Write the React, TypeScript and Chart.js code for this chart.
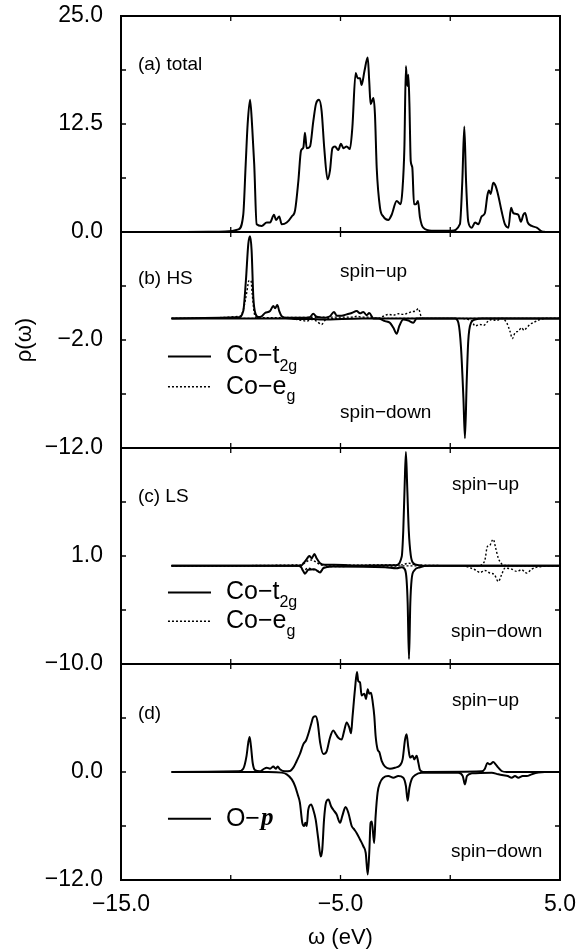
import React, { useEffect, useRef } from "react";
import { Chart, registerables } from "chart.js";

Chart.register(...registerables);

const M = "\u2212";

// x axis
const xTickLabels = [M + "15.0", "", M + "5.0", "", "5.0"];
// y tick labels per panel (index 0 = bottom)
const aTickLabels = ["0.0", "", "12.5", "", "25.0"];
const bTickLabels = [M + "12.0", "", M + "2.0", "", ""];
const cTickLabels = [M + "10.0", "", "1.0", "", ""];
const dTickLabels = [M + "12.0", "", "0.0", "", ""];

// (a) total DOS  [omega, rho]
const totalDos: number[][] = [
  [-12.7, 0], [-11.0, 0.02], [-10.26, 0.05], [-9.65, 0.3], [-9.43, 2.0], [-9.32, 7.8], [-9.23, 12.5],
  [-9.12, 15.3], [-9.02, 12.0], [-8.93, 7.8], [-8.82, 0.9], [-8.59, 0.7], [-8.36, 1.1], [-8.21, 1.1],
  [-8.03, 2.0], [-7.94, 1.4], [-7.79, 1.8], [-7.68, 0.9], [-7.45, 1.1], [-7.22, 1.8], [-7.07, 2.5],
  [-6.92, 5.9], [-6.8, 9.4], [-6.69, 9.8], [-6.62, 11.5], [-6.54, 9.7], [-6.39, 9.9], [-6.24, 12.8],
  [-6.12, 14.8], [-5.98, 15.3], [-5.86, 14.0], [-5.74, 9.7], [-5.59, 6.1], [-5.48, 7.1], [-5.37, 9.7],
  [-5.25, 9.9], [-5.1, 9.5], [-4.98, 10.2], [-4.86, 9.7], [-4.72, 9.9], [-4.57, 9.6], [-4.46, 12.1],
  [-4.31, 18.4], [-4.22, 17.8], [-4.11, 17.8], [-4.04, 17.0], [-3.91, 18.6], [-3.76, 20.2], [-3.69, 17.4],
  [-3.63, 14.8], [-3.5, 15.5], [-3.43, 13.6], [-3.35, 7.4], [-3.2, 2.8], [-3.05, 1.8], [-2.82, 1.4],
  [-2.67, 2.0], [-2.44, 3.6], [-2.26, 3.2], [-2.18, 4.8], [-2.09, 9.7], [-2.02, 19.2], [-1.96, 16.9],
  [-1.91, 18.2], [-1.86, 14.8], [-1.8, 8.2], [-1.73, 7.5], [-1.65, 3.2], [-1.56, 3.2], [-1.47, 3.6],
  [-1.38, 1.7], [-1.23, 0.5], [-0.85, 0.15], [0.06, 0.15], [0.44, 0.9], [0.55, 5.9], [0.64, 12.2],
  [0.72, 5.9], [0.82, 1.2], [0.98, 0.5], [1.13, 1.1], [1.28, 0.9], [1.43, 1.8], [1.58, 2.2], [1.69, 4.2],
  [1.76, 4.8], [1.84, 4.4], [1.96, 5.7], [2.07, 5.3], [2.19, 4.2], [2.34, 2.4], [2.49, 0.9], [2.65, 0.5],
  [2.77, 2.8], [2.87, 2.2], [2.98, 2.1], [3.1, 2.0], [3.22, 1.2], [3.33, 2.0], [3.41, 2.2], [3.53, 1.1],
  [3.71, 0.7], [3.94, 0.5], [4.17, 0.08], [4.32, 0],
];

// (b) HS
const hsT2gUp: number[][] = [
  [-12.7, 0], [-9.65, 0.1], [-9.43, 0.68], [-9.31, 3.5], [-9.2, 6.9], [-9.12, 7.6], [-9.05, 6.3],
  [-8.97, 1.9], [-8.86, 0.37], [-8.74, 0.12], [-8.59, 0.2], [-8.44, 0.5], [-8.21, 0.68], [-8.06, 1.15],
  [-7.98, 0.93], [-7.88, 1.24], [-7.79, 0.68], [-7.68, 0.2], [-7.45, 0.05], [-6.62, 0.05], [-6.39, 0.12],
  [-6.24, 0.43], [-6.09, 0.15], [-5.71, 0.05], [-5.48, 0.2], [-5.3, 0.6], [-5.17, 0.25], [-4.95, 0.25],
  [-4.72, 0.37], [-4.49, 0.5], [-4.26, 0.68], [-4.11, 0.47], [-3.96, 0.6], [-3.81, 0.3], [-3.69, 0.5],
  [-3.5, 0], [5, 0],
];
const hsT2gDown: number[][] = [
  [-12.7, 0], [-7.5, 0], [-7.0, -0.05], [-6.24, -0.05], [-5.86, -0.1], [-4.0, 0], [-3.28, -0.02],
  [-2.97, -0.25], [-2.75, -0.4], [-2.59, -0.87], [-2.44, -1.43], [-2.32, -0.7], [-2.14, -0.1],
  [-1.91, -0.2], [-1.68, -0.4], [-1.53, 0], [0.22, 0], [0.37, -0.4], [0.49, -2.7], [0.6, -7.4],
  [0.67, -11.1], [0.75, -5.8], [0.82, -2.1], [0.95, -0.4], [1.13, -0.1], [1.43, 0], [5, 0],
];
const hsEgUp: number[][] = [
  [-12.7, 0], [-9.58, 0.2], [-9.43, 0.8], [-9.27, 2.4], [-9.17, 3.5], [-9.08, 3.5], [-9.02, 2.2],
  [-8.93, 0.5], [-8.82, 0.06], [-5.02, 0.12], [-4.49, 0.12], [-4.26, 0.2], [-4.04, 0.12], [-3.73, 0.12],
  [-3.28, 0], [-3.05, 0.2], [-2.82, 0.37], [-2.59, 0.3], [-2.37, 0.43], [-2.14, 0.37], [-1.91, 0.5],
  [-1.76, 0.62], [-1.58, 0.68], [-1.45, 0.9], [-1.33, 0.2], [-1.23, 0], [5, 0],
];
const hsEgDown: number[][] = [
  [-12.7, 0], [-7.22, 0], [-6.99, -0.1], [-6.77, -0.18], [-6.54, -0.25], [-6.31, -0.1], [-6.09, -0.25],
  [-5.86, -0.56], [-5.71, -0.18], [-5.48, 0], [0.37, 0], [0.98, -0.25], [1.13, -0.7], [1.36, -0.56],
  [1.51, -0.65], [1.73, -0.25], [1.89, -0.1], [2.11, -0.2], [2.34, 0], [2.57, -0.4], [2.72, -1.18],
  [2.83, -1.86], [2.95, -1.33], [3.1, -1.18], [3.25, -0.87], [3.36, -1.1], [3.48, -0.87], [3.63, -0.56],
  [3.86, -0.31], [4.09, -0.1], [4.32, 0], [5, 0],
];

// (c) LS
const lsT2gUp: number[][] = [
  [-12.7, 0], [-6.8, 0], [-6.69, 0.27], [-6.54, 0.68], [-6.42, 1.0], [-6.31, 0.78], [-6.19, 1.2],
  [-6.09, 0.78], [-5.93, 0.27], [-5.71, 0.1], [-5.3, 0.1], [-4.0, 0.03], [-2.5, 0.05], [-2.21, 0.95],
  [-2.14, 3.6], [-2.08, 8.0], [-2.02, 11.6], [-1.96, 8.0], [-1.89, 3.6], [-1.8, 1.1], [-1.68, 0.27],
  [-1.45, 0.07], [-1.2, 0], [5, 0],
];
const lsT2gDown: number[][] = [
  [-12.7, 0], [-6.85, 0], [-6.69, -0.57], [-6.62, -0.8], [-6.47, -0.4], [-6.19, -0.34], [-5.93, -0.68],
  [-5.78, -0.24], [-5.4, -0.07], [-2.97, -0.14], [-2.44, -0.24], [-2.21, -0.14], [-2.06, -0.4],
  [-1.99, -1.4], [-1.94, -3.8], [-1.88, -9.5], [-1.82, -3.8], [-1.76, -1.4], [-1.64, -0.47],
  [-1.38, -0.14], [-1.0, 0], [5, 0],
];
const lsEgUp: number[][] = [
  [-12.7, 0], [-6.77, 0.1], [-6.54, 0.44], [-6.31, 0.6], [-6.09, 0.34], [-5.86, 0.07], [-2.2, 0.1],
  [-1.9, 0.27], [-1.6, 0.1], [1.3, 0], [1.43, 0.1], [1.58, 0.6], [1.69, 1.96], [1.81, 2.1], [1.89, 2.5],
  [1.96, 2.7], [2.07, 1.8], [2.19, 0.78], [2.34, 0.2], [2.49, 0.03], [5, 0],
];
const lsEgDown: number[][] = [
  [-12.7, 0], [-6.9, 0], [-6.7, -0.47], [-6.47, -0.24], [-5.93, -0.57], [-5.7, -0.1], [0.6, 0],
  [0.82, -0.14], [1.13, -0.4], [1.36, -0.68], [1.58, -0.47], [1.81, -0.74], [2.01, -0.9], [2.19, -1.6],
  [2.34, -0.9], [2.49, -0.24], [2.8, -0.34], [3.03, -0.57], [3.25, -0.4], [3.48, -0.74], [3.71, -0.34],
  [3.94, -0.14], [4.17, -0.07], [4.4, 0], [5, 0],
];

// (d) O-p
const opUp: number[][] = [
  [-12.7, 0], [-9.66, 0.07], [-9.43, 0.37], [-9.28, 1.8], [-9.2, 3.3], [-9.14, 3.9], [-9.08, 2.9],
  [-9.0, 1.0], [-8.9, 0.22], [-8.67, 0.07], [-8.52, 0.3], [-8.36, 0.48], [-8.21, 0.37], [-8.06, 0.6],
  [-7.95, 0.37], [-7.86, 0.6], [-7.76, 0.3], [-7.53, 0.07], [-7.3, 0.11], [-7.15, 0.48], [-7.0, 1.2],
  [-6.85, 2.0], [-6.69, 3.1], [-6.57, 3.5], [-6.47, 4.2], [-6.34, 5.3], [-6.24, 6.1], [-6.13, 6.2],
  [-6.04, 5.5], [-5.93, 3.3], [-5.78, 2.0], [-5.63, 2.3], [-5.48, 3.8], [-5.33, 4.6], [-5.21, 4.2],
  [-5.1, 3.8], [-4.95, 3.6], [-4.83, 4.6], [-4.72, 5.5], [-4.6, 4.95], [-4.52, 4.3], [-4.45, 6.2],
  [-4.34, 9.2], [-4.25, 11.1], [-4.19, 10.1], [-4.11, 9.95], [-4.04, 8.5], [-3.91, 8.7], [-3.84, 8.1],
  [-3.76, 9.2], [-3.69, 8.7], [-3.61, 8.8], [-3.53, 7.7], [-3.46, 6.2], [-3.4, 4.0], [-3.31, 2.5],
  [-3.23, 2.2], [-3.12, 1.2], [-2.97, 0.6], [-2.75, 0.37], [-2.52, 0.48], [-2.29, 0.74], [-2.17, 1.4],
  [-2.06, 3.6], [-1.99, 4.2], [-1.91, 2.7], [-1.83, 1.6], [-1.71, 1.8], [-1.64, 1.4], [-1.53, 1.8],
  [-1.45, 1.0], [-1.38, 0.22], [-1.23, 0], [1.43, 0.07], [1.58, 0.37], [1.69, 1.0], [1.81, 0.85],
  [1.96, 1.1], [2.07, 0.85], [2.19, 0.48], [2.34, 0.11], [2.57, 0], [5, 0],
];
const opDown: number[][] = [
  [-12.7, 0], [-8.29, 0], [-7.68, -0.07], [-7.45, -0.26], [-7.22, -0.82], [-7.07, -1.56], [-6.95, -2.5],
  [-6.85, -3.4], [-6.74, -5.65], [-6.66, -6.0], [-6.6, -5.65], [-6.54, -6.0], [-6.47, -4.2], [-6.34, -3.6],
  [-6.24, -4.2], [-6.13, -5.3], [-6.01, -7.5], [-5.9, -9.4], [-5.83, -8.6], [-5.75, -5.3], [-5.66, -3.4],
  [-5.55, -3.05], [-5.43, -3.8], [-5.33, -4.2], [-5.18, -4.7], [-5.02, -5.65], [-4.92, -4.9], [-4.77, -3.9],
  [-4.64, -4.55], [-4.49, -6.0], [-4.37, -6.4], [-4.26, -6.8], [-4.11, -7.5], [-3.96, -8.25], [-3.85, -9.0],
  [-3.76, -11.4], [-3.69, -9.0], [-3.63, -5.65], [-3.57, -5.5], [-3.47, -7.9], [-3.4, -4.9], [-3.31, -2.3],
  [-3.2, -1.2], [-3.05, -0.63], [-2.82, -0.45], [-2.59, -0.63], [-2.37, -0.45], [-2.14, -0.63],
  [-2.02, -1.56], [-1.94, -3.2], [-1.86, -1.75], [-1.76, -0.82], [-1.61, -0.37], [-1.3, -0.07],
  [0.37, -0.07], [0.57, -0.45], [0.67, -1.38], [0.76, -0.45], [0.98, -0.15], [1.89, -0.07], [2.19, -0.26],
  [2.42, -0.37], [2.62, -0.45], [2.8, -0.63], [2.95, -0.45], [3.1, -0.63], [3.3, -0.45], [3.48, -0.45],
  [3.71, -0.26], [4.01, -0.07], [4.3, 0], [5, 0],
];

const SANS = "'Liberation Sans', Arial, Helvetica, sans-serif";

const panelTags = [
  { axis: "ya", x: -14.23, y: 19.35, text: "(a) total" },
  { axis: "yb", x: -14.23, y: 3.63, text: "(b) HS" },
  { axis: "yc", x: -14.23, y: 7.03, text: "(c) LS" },
  { axis: "yd", x: -14.23, y: 6.42, text: "(d)" },
];
const spinTags = [
  { axis: "yb", x: -5.02, y: 4.28, text: "spin" + M + "up" },
  { axis: "yb", x: -5.02, y: -8.74, text: "spin" + M + "down" },
  { axis: "yc", x: 0.08, y: 8.25, text: "spin" + M + "up" },
  { axis: "yc", x: 0.03, y: -6.76, text: "spin" + M + "down" },
  { axis: "yd", x: 0.08, y: 7.87, text: "spin" + M + "up" },
  { axis: "yd", x: 0.03, y: -8.87, text: "spin" + M + "down" },
];
const legendItems = [
  { axis: "yb", y: -3.53, main: "Co" + M + "t", sub: "2g", ital: "", dashed: false },
  { axis: "yb", y: -6.33, main: "Co" + M + "e", sub: "g", ital: "", dashed: true },
  { axis: "yc", y: -2.71, main: "Co" + M + "t", sub: "2g", ital: "", dashed: false },
  { axis: "yc", y: -5.65, main: "Co" + M + "e", sub: "g", ital: "", dashed: true },
  { axis: "yd", y: -5.19, main: "O" + M, sub: "", ital: "p", dashed: false },
];

const decorPlugin = {
  id: "decor",
  afterDatasetsDraw(chart: any) {
    const ctx = chart.ctx;
    const { left, right } = chart.chartArea;
    const xs = chart.scales.x;
    ctx.save();
    ctx.strokeStyle = "#000";
    ctx.fillStyle = "#000";
    for (const id of ["ya", "yb", "yc", "yd"]) {
      const s = chart.scales[id];
      ctx.lineWidth = 2;
      ctx.setLineDash([]);
      ctx.strokeRect(left, s.top, right - left, s.bottom - s.top);
      ctx.lineWidth = 1.3;
      ctx.beginPath();
      for (const t of s.ticks) {
        const py = s.getPixelForValue(t.value);
        ctx.moveTo(left, py);
        ctx.lineTo(left + 5, py);
        ctx.moveTo(right, py);
        ctx.lineTo(right - 5, py);
      }
      for (const t of xs.ticks) {
        const px = xs.getPixelForValue(t.value);
        ctx.moveTo(px, s.top);
        ctx.lineTo(px, s.top + 5);
        ctx.moveTo(px, s.bottom);
        ctx.lineTo(px, s.bottom - 5);
      }
      ctx.stroke();
    }
    ctx.textBaseline = "middle";
    ctx.textAlign = "left";
    ctx.font = "19px " + SANS;
    for (const t of [...panelTags, ...spinTags]) {
      ctx.fillText(t.text, xs.getPixelForValue(t.x), chart.scales[t.axis].getPixelForValue(t.y));
    }
    for (const l of legendItems) {
      const s = chart.scales[l.axis];
      const py = s.getPixelForValue(l.y);
      const x0 = xs.getPixelForValue(-12.86);
      const x1 = xs.getPixelForValue(-10.9);
      ctx.beginPath();
      ctx.lineWidth = l.dashed ? 1.4 : 1.9;
      ctx.setLineDash(l.dashed ? [2, 2] : []);
      ctx.moveTo(x0, py);
      ctx.lineTo(x1, py);
      ctx.stroke();
      ctx.setLineDash([]);
      let tx = xs.getPixelForValue(-10.22);
      ctx.font = "25px " + SANS;
      ctx.fillText(l.main, tx, py);
      tx += ctx.measureText(l.main).width;
      if (l.sub) {
        ctx.font = "16px " + SANS;
        ctx.fillText(l.sub, tx, py + 10);
      }
      if (l.ital) {
        ctx.font = "italic bold 25px 'Liberation Serif', 'Times New Roman', serif";
        ctx.fillText(l.ital, tx + 1, py);
      }
    }
    ctx.restore();
  },
};

function series(pairs: number[][], axis: string, dashed: boolean) {
  return {
    data: pairs.map((p) => ({ x: p[0], y: p[1] })),
    yAxisID: axis,
    borderColor: "#000",
    backgroundColor: "#000",
    borderWidth: dashed ? 1.4 : 2,
    borderDash: dashed ? [2, 2] : [],
    pointRadius: 0,
    cubicInterpolationMode: "monotone",
    fill: false,
  };
}

function yAxis(min: number, max: number, step: number, labels: string[], weight: number, title?: string) {
  return {
    type: "linear",
    position: "left",
    stack: "panels",
    stackWeight: 1,
    weight,
    min,
    max,
    offset: false,
    afterFit: (s: any) => {
      s.width = 121;
      s.paddingTop = 0;
      s.paddingBottom = 0;
    },
    afterBuildTicks: (s: any) => {
      const t = [];
      for (let i = 0; i < labels.length; i++) t.push({ value: min + i * step });
      s.ticks = t;
    },
    ticks: {
      autoSkip: false,
      padding: 18,
      color: "#000",
      font: { family: SANS, size: 23 },
      callback: (_v: any, i: number) => labels[i],
    },
    grid: { display: false, drawTicks: false },
    border: { display: false },
    title: {
      display: !!title,
      text: title || "",
      color: "#000",
      font: { family: SANS, size: 22 },
      padding: { top: 12, bottom: 0 },
    },
  };
}

export default function App() {
  const ref = useRef<HTMLCanvasElement>(null);
  useEffect(() => {
    if (!ref.current) return;
    const chart = new Chart(ref.current, {
      type: "line",
      data: {
        datasets: [
          series(totalDos, "ya", false),
          series(hsEgUp, "yb", true),
          series(hsEgDown, "yb", true),
          series(hsT2gUp, "yb", false),
          series(hsT2gDown, "yb", false),
          series(lsEgUp, "yc", true),
          series(lsEgDown, "yc", true),
          series(lsT2gUp, "yc", false),
          series(lsT2gDown, "yc", false),
          series(opUp, "yd", false),
          series(opDown, "yd", false),
        ] as any,
      },
      options: {
        animation: false,
        responsive: false,
        maintainAspectRatio: false,
        devicePixelRatio: 1,
        layout: { padding: { top: 16, right: 18, left: 0, bottom: 0 } },
        plugins: { legend: { display: false }, tooltip: { enabled: false } },
        scales: {
          x: {
            type: "linear",
            position: "bottom",
            min: -15,
            max: 5,
            afterFit: (s: any) => {
              s.height = 71;
              s.paddingLeft = 0;
              s.paddingRight = 0;
            },
            afterBuildTicks: (s: any) => {
              s.ticks = xTickLabels.map((_l, i) => ({ value: -15 + i * 5 }));
            },
            ticks: {
              autoSkip: false,
              maxRotation: 0,
              padding: 11,
              color: "#000",
              font: { family: SANS, size: 23 },
              callback: (_v: any, i: number) => xTickLabels[i],
            },
            grid: { display: false, drawTicks: false },
            border: { display: false },
            title: {
              display: true,
              text: "\u03c9 (eV)",
              color: "#000",
              font: { family: SANS, size: 22 },
              padding: { top: 0, bottom: 0 },
            },
          },
          ya: yAxis(0, 25, 6.25, aTickLabels, 4),
          yb: yAxis(-12, 8, 5, bTickLabels, 3, "\u03c1(\u03c9)"),
          yc: yAxis(-10, 12, 5.5, cTickLabels, 2),
          yd: yAxis(-12, 12, 6, dTickLabels, 1),
        } as any,
      },
      plugins: [decorPlugin],
    });
    return () => chart.destroy();
  }, []);
  return (
    <div style={{ position: "absolute", left: 0, top: 0, width: 578, height: 951, background: "#fff" }}>
      <canvas ref={ref} width={578} height={951} />
    </div>
  );
}
